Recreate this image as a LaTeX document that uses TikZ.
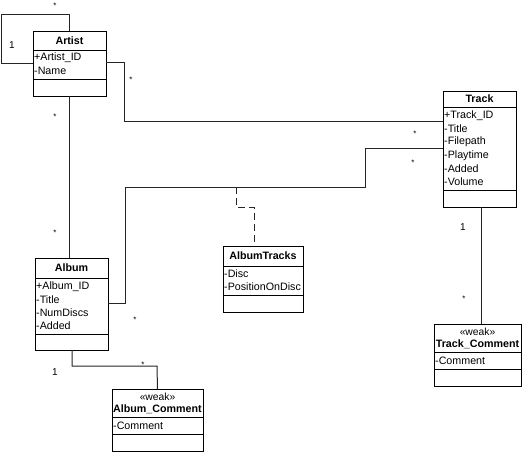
\documentclass[tikz,border=0pt]{standalone}
\usepackage{fontspec}
\setmainfont{Liberation Sans}
\begin{document}
\begin{tikzpicture}[x=1pt,y=-1pt,
  cls/.style={draw=black, line width=1pt, anchor=north west, inner sep=0pt, outer sep=0pt, fill=white},
  sec/.style={draw=black, line width=1pt},
  ttl/.style={font=\bfseries\fontsize{10.7}{12}\selectfont, inner sep=0pt},
  stereo/.style={font=\fontsize{10.3}{12}\selectfont, inner sep=0pt},
  attr/.style={font=\fontsize{10.7}{12}\selectfont, anchor=west, inner sep=0pt},
  conn/.style={draw=black!85, line width=1pt},
  dep/.style={draw=black!85, line width=1pt, dash pattern=on 7pt off 4pt},
  mstar/.style={font=\fontsize{8}{9}\selectfont, inner sep=0pt},
  mone/.style={font=\fontsize{10}{12}\selectfont, inner sep=0pt}]
\useasboundingbox (0,0) rectangle (523,453);
\fill[white] (0,0) rectangle (523,453);

% ---------- Artist ----------
\node[cls, minimum width=73pt, minimum height=65pt] (artist) at (33,31) {};
\draw[sec] (artist.west |- 0,50) -- (artist.east |- 0,50);
\draw[sec] (artist.west |- 0,79) -- (artist.east |- 0,79);
\node[ttl] (artistT) at (69.5,41) {Artist};
\node[attr] (artistA1) at (34,58) {+Artist\_ID};
\node[attr] (artistA2) at (34,71) {-Name};

% ---------- Track ----------
\node[cls, minimum width=73pt, minimum height=116pt] (track) at (443,91) {};
\draw[sec] (track.west |- 0,107) -- (track.east |- 0,107);
\draw[sec] (track.west |- 0,190) -- (track.east |- 0,190);
\node[ttl] (trackT) at (479.5,99) {Track};
\node[attr] (trackA1) at (444,116) {+Track\_ID};
\node[attr] (trackA2) at (444,129) {-Title};
\node[attr] (trackA3) at (444,142) {-Filepath};
\node[attr] (trackA4) at (444,155.5) {-Playtime};
\node[attr] (trackA5) at (444,169) {-Added};
\node[attr] (trackA6) at (444,182) {-Volume};

% ---------- Album ----------
\node[cls, minimum width=73pt, minimum height=92pt] (album) at (35,258) {};
\draw[sec] (album.west |- 0,278) -- (album.east |- 0,278);
\draw[sec] (album.west |- 0,334) -- (album.east |- 0,334);
\node[ttl] (albumT) at (71.5,268) {Album};
\node[attr] (albumA1) at (36,287) {+Album\_ID};
\node[attr] (albumA2) at (36,300) {-Title};
\node[attr] (albumA3) at (36,313) {-NumDiscs};
\node[attr] (albumA4) at (36,326) {-Added};

% ---------- AlbumTracks ----------
\node[cls, minimum width=80pt, minimum height=66pt] (atracks) at (223,246) {};
\draw[sec] (atracks.west |- 0,266) -- (atracks.east |- 0,266);
\draw[sec] (atracks.west |- 0,295) -- (atracks.east |- 0,295);
\node[ttl] (atracksT) at (263,256) {AlbumTracks};
\node[attr] (atracksA1) at (224,274) {-Disc};
\node[attr] (atracksA2) at (224,287) {-PositionOnDisc};

% ---------- Track_Comment ----------
\node[cls, minimum width=87pt, minimum height=62pt] (tcomm) at (434,324) {};
\draw[sec] (tcomm.west |- 0,352) -- (tcomm.east |- 0,352);
\draw[sec] (tcomm.west |- 0,369) -- (tcomm.east |- 0,369);
\node[stereo] (tcommS) at (477.5,332) {«weak»};
\node[ttl] (tcommT) at (477.5,344) {Track\_Comment};
\node[attr] (tcommA1) at (435,360.5) {-Comment};

% ---------- Album_Comment ----------
\node[cls, minimum width=91pt, minimum height=62pt] (acomm) at (112,389) {};
\draw[sec] (acomm.west |- 0,417) -- (acomm.east |- 0,417);
\draw[sec] (acomm.west |- 0,434) -- (acomm.east |- 0,434);
\node[stereo] (acommS) at (157.5,397) {«weak»};
\node[ttl] (acommT) at (157.5,409) {Album\_Comment};
\node[attr] (acommA1) at (113,425.5) {-Comment};

% ---------- connectors ----------
\coordinate (loopA) at (1,14);
\draw[conn] (artist.north) |- (loopA) |- (artist.west |- 0,63);
\node[mstar] (m1) at (55,6) {*};
\node[mone] (m2) at (12,45) {1};

\draw[conn] (artist.east |- 0,62) -| (124,121) -- (track.west |- 0,121);
\node[mstar] (m3) at (131,80) {*};
\node[mstar] (m4) at (415,134) {*};

\draw[conn] (artist.south) -- (artist.south |- album.north);
\node[mstar] (m5) at (55,117) {*};
\node[mstar] (m6) at (55,233) {*};

\draw[conn] (album.east |- 0,303) -| (125,187) -| (365,148) -- (track.west |- 0,148);
\node[mstar] (m7) at (135,320) {*};
\node[mstar] (m8) at (413,163) {*};

\draw[dep] (236,187) -- (236,207) -| (atracks.north -| 254,0);

\draw[conn] (track.south -| 481,0) -- (tcomm.north -| 481,0);
\node[mone] (m9) at (463,227) {1};
\node[mstar] (m10) at (464,299) {*};

\draw[conn] (album.south -| 72,0) |- (157,366) -- (acomm.north);
\node[mone] (m11) at (55,372) {1};
\node[mstar] (m12) at (143,365) {*};
\end{tikzpicture}
\end{document}
